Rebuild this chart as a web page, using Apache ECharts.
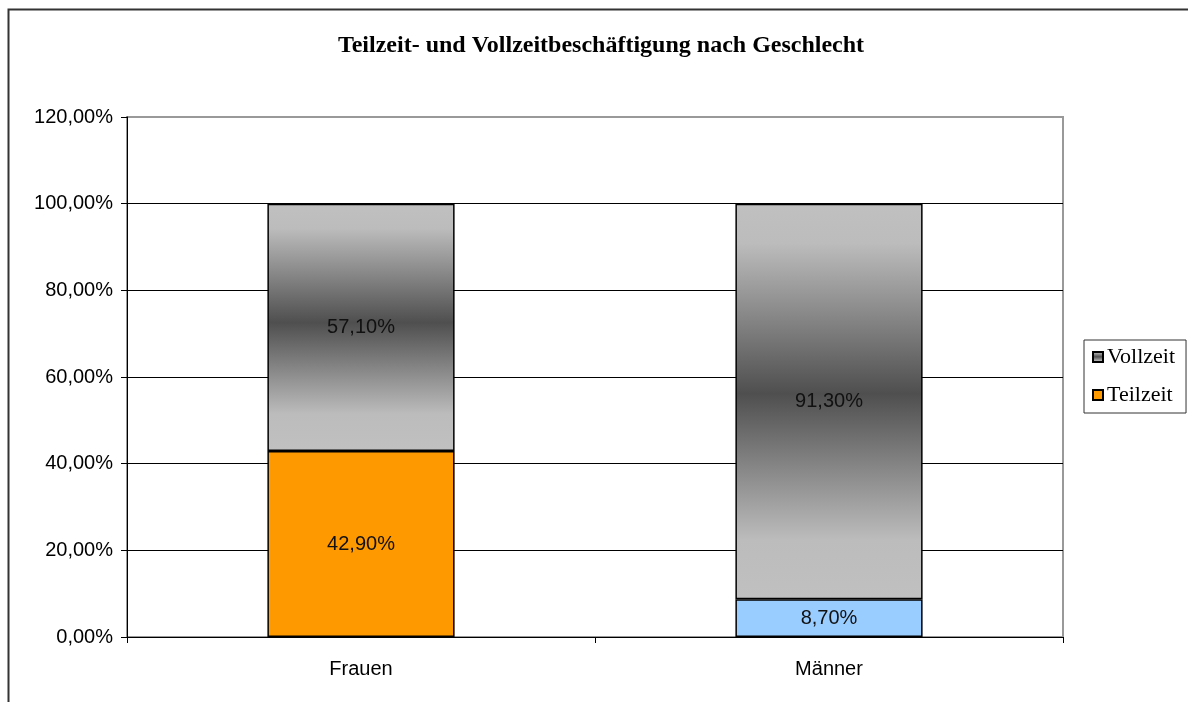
<!DOCTYPE html>
<html>
<head>
<meta charset="utf-8">
<script src="https://cdn.jsdelivr.net/npm/echarts@6/dist/echarts.min.js"></script>
<style>
html,body{margin:0;padding:0;background:#fff;}
#chart{width:1188px;height:702px;}
</style>
</head>
<body>
<div id="chart"></div>
<script>
const categories = ['Frauen', 'Männer'];
const teilzeit = [42.9, 8.7];
const vollzeit = [57.1, 91.3];
const titleText = 'Teilzeit- und Vollzeitbeschäftigung nach Geschlecht';
const teilzeitColors = ['#FF9900', '#99CCFF'];

const fmt = v => v.toFixed(2).replace('.', ',') + '%';

const grayGrad = {
  type: 'linear', x: 0, y: 0, x2: 0, y2: 1,
  colorStops: [
    {offset: 0, color: '#c0c0c0'},
    {offset: 0.1, color: '#bcbcbc'},
    {offset: 0.48, color: '#4f4f4f'},
    {offset: 0.85, color: '#bcbcbc'},
    {offset: 1, color: '#c0c0c0'}
  ]
};

const chart = echarts.init(document.getElementById('chart'));
chart.setOption({
  animation: false,
  backgroundColor: '#fff',
  title: {
    text: titleText,
    left: 596, top: 29, textAlign: 'center',
    textStyle: {fontFamily: 'Liberation Serif', fontWeight: 'bold', fontSize: 24, color: '#000'}
  },
  legend: {
    data: ['Vollzeit', 'Teilzeit'],
    orient: 'vertical',
    left: 1084, top: 340,
    padding: [6, 11, 7, 8],
    itemGap: 16,
    itemWidth: 10, itemHeight: 10,
    icon: 'rect',
    borderColor: '#333', borderWidth: 1,
    textStyle: {fontFamily: 'Liberation Serif', fontSize: 22, color: '#000', padding: [0, 0, 0, -1]}
  },
  grid: {
    left: 127, right: 125, top: 117, bottom: 65,
    show: true, borderColor: '#999', borderWidth: 2, backgroundColor: '#fff'
  },
  xAxis: {
    type: 'category',
    data: categories,
    axisLine: {lineStyle: {color: '#000', width: 1}},
    axisTick: {show: true, length: 6, lineStyle: {color: '#000'}},
    axisLabel: {fontFamily: 'Liberation Sans', fontSize: 20, color: '#000', margin: 22}
  },
  yAxis: {
    type: 'value', min: 0, max: 120, interval: 20,
    axisLine: {show: true, lineStyle: {color: '#000', width: 1}},
    axisTick: {show: true, length: 6, lineStyle: {color: '#000'}},
    axisLabel: {fontFamily: 'Liberation Sans', fontSize: 20, color: '#000', margin: 14, formatter: v => fmt(v)},
    splitLine: {lineStyle: {color: ['#000', '#000', '#000', '#000', '#000', '#000', '#999'], width: 1}}
  },
  series: [
    {
      name: 'Teilzeit', type: 'bar', stack: 'a', barWidth: '40%',
      data: teilzeit.map((v, i) => ({value: v, itemStyle: {color: teilzeitColors[i]}})),
      itemStyle: {color: teilzeitColors[0], borderColor: '#000', borderWidth: 1.5},
      label: {show: true, position: 'inside', formatter: p => fmt(p.value), fontFamily: 'Liberation Sans', fontSize: 20, color: '#111'}
    },
    {
      name: 'Vollzeit', type: 'bar', stack: 'a', barWidth: '40%',
      data: vollzeit,
      itemStyle: {color: grayGrad, borderColor: '#000', borderWidth: 1.5},
      label: {show: true, position: 'inside', formatter: p => fmt(p.value), fontFamily: 'Liberation Sans', fontSize: 20, color: '#111'}
    }
  ],
  graphic: [{
    type: 'rect', left: 6, top: 7, silent: true, z: 100,
    shape: {x: 0, y: 0, width: 1300, height: 800},
    style: {fill: 'none', stroke: '#333', lineWidth: 2}
  }]
});
</script>
</body>
</html>
